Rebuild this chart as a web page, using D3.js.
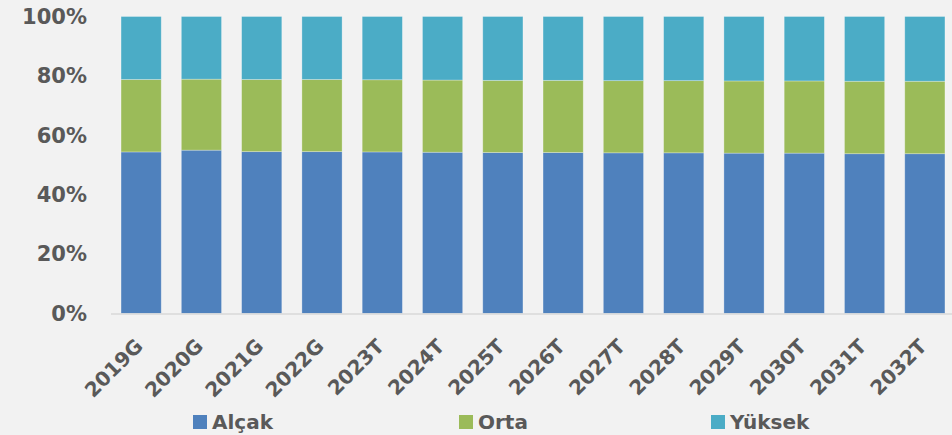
<!DOCTYPE html>
<html>
<head>
<meta charset="utf-8">
<script src="https://cdn.jsdelivr.net/npm/d3@7"></script>
<style>
  html, body { margin: 0; padding: 0; background: #f2f2f2; }
  svg { display: block; }
  text { font-family: "DejaVu Sans", sans-serif; font-weight: bold; fill: #595959; }
</style>
</head>
<body>
<div id="chart"></div>
<script>
// yıllar (G = gerçekleşen, T = tahmin)
const years = ["2019G","2020G","2021G","2022G","2023T","2024T","2025T","2026T",
               "2027T","2028T","2029T","2030T","2031T","2032T"]
const seriesNames = ["Alçak","Orta","Yüksek"]
// yüzde paylar
const alcak  = [54.4, 55.0, 54.5, 54.5, 54.4, 54.3, 54.2, 54.2, 54.1, 54.1, 54.0, 54.0, 53.8, 53.8]
const orta   = [24.4, 23.9, 24.3, 24.3, 24.3, 24.3, 24.3, 24.3, 24.3, 24.3, 24.3, 24.3, 24.4, 24.4]
const yuksek = [21.2, 21.1, 21.2, 21.2, 21.3, 21.4, 21.5, 21.5, 21.6, 21.6, 21.7, 21.7, 21.8, 21.8]
const yTicks = [0, 20, 40, 60, 80, 100]

const WIDTH = 952, HEIGHT = 435
const COLORS = ["#4f81bd", "#9bbb59", "#4bacc6"]
const FONT = "'DejaVu Sans', sans-serif"

let svg = d3.select("#chart").append("svg")
    .attr("width", WIDTH)
    .attr("height", HEIGHT)

svg.append("rect").attr("width", WIDTH).attr("height", HEIGHT).style("fill", "#f2f2f2")

let rows = years.map((y, i) => ({year: y, "Alçak": alcak[i], "Orta": orta[i], "Yüksek": yuksek[i]}))
let stacked = d3.stack().keys(seriesNames)(rows)

// scales
let x = d3.scaleBand()
    .domain(years)
    .range([111, 955])
    .paddingInner(1/3)
    .paddingOuter(1/6)

let y = d3.scaleLinear()
    .domain([0, 100])
    .range([313.5, 16.5])

// bars
svg.append("g").selectAll("g")
    .data(stacked)
    .join("g")
    .style("fill", (d, i) => COLORS[i])
    .selectAll("rect")
    .data(d => d)
    .join("rect")
    .attr("x", d => x(d.data.year))
    .attr("y", d => y(d[1]))
    .attr("width", x.bandwidth())
    .attr("height", d => y(d[0]) - y(d[1]))
    .style("stroke", "rgba(255,255,255,0.35)")
    .style("stroke-width", 0.8)

// baseline
svg.append("line")
    .attr("x1", 111).attr("x2", WIDTH)
    .attr("y1", y(0) + 0.5).attr("y2", y(0) + 0.5)
    .style("stroke", "#d9d9d9")
    .style("stroke-width", 1.5)

// y axis
let yAxis = svg.append("g")
    .attr("transform", "translate(87,0)")
    .call(d3.axisLeft(y).tickValues(yTicks).tickFormat(d => d + "%").tickSize(0).tickPadding(0))
yAxis.select(".domain").remove()
yAxis.selectAll("text")
    .style("font-size", "21px")
    .style("font-family", FONT)
    .style("font-weight", "bold")
    .style("fill", "#595959")

// x axis
let xAxis = svg.append("g")
    .attr("transform", "translate(0," + y(0) + ")")
    .call(d3.axisBottom(x).tickSize(0).tickPadding(0))
xAxis.select(".domain").remove()
xAxis.selectAll("text")
    .style("font-size", "20px")
    .style("font-family", FONT)
    .style("font-weight", "bold")
    .style("fill", "#595959")
    .style("text-anchor", "end")
    .attr("y", 0)
    .attr("dy", 0)
    .attr("transform", "translate(3,34) rotate(-45)")

// legend
let legendX = [193, 459, 711]
let legend = svg.append("g").selectAll("g")
    .data(seriesNames)
    .join("g")
    .attr("transform", (d, i) => "translate(" + legendX[i] + ",415)")
legend.append("rect")
    .attr("width", 14).attr("height", 14)
    .style("fill", (d, i) => COLORS[i])
legend.append("text")
    .attr("x", 19).attr("y", 7)
    .attr("dy", "0.36em")
    .style("font-size", "20px")
    .style("font-family", FONT)
    .text(d => d)
</script>
</body>
</html>
